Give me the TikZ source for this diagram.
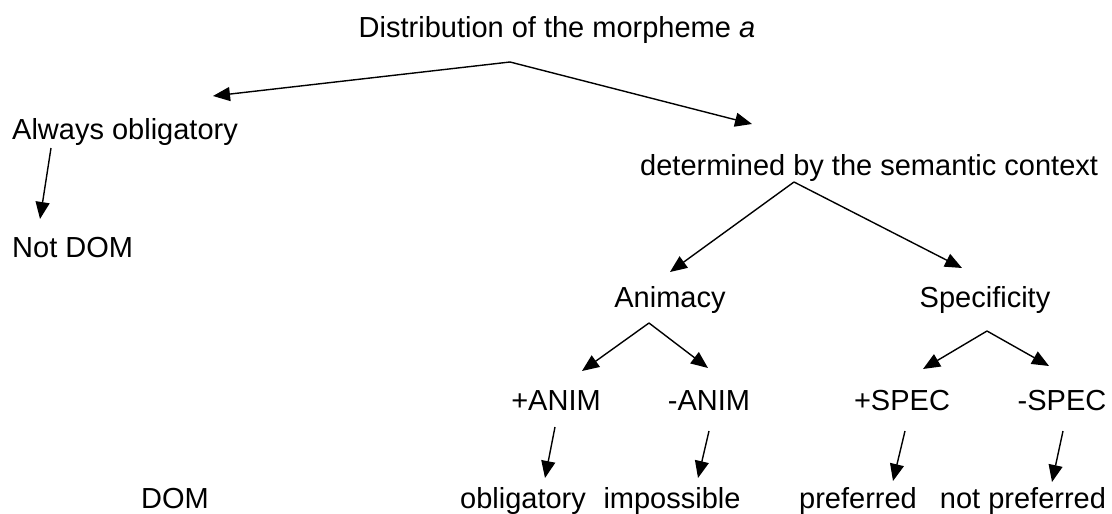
\documentclass[tikz,border=0pt]{standalone}
\usepackage{fontspec}
\setmainfont{Liberation Sans}
\usetikzlibrary{arrows.meta}
\begin{document}
\begin{tikzpicture}[x=1pt,y=-1pt,
  lbl/.style={inner sep=0pt,anchor=base,font=\fontsize{29}{34}\selectfont},
  arr/.style={-{Triangle[length=17pt,width=14pt]},line width=1.4pt}]
\useasboundingbox (0,0) rectangle (1112,514);
% texts
\node[lbl] (title) at (557,37) {Distribution of the morpheme \textit{a}};
\node[lbl,anchor=base west] (always) at (12,139) {Always obligatory};
\node[lbl,anchor=base west] (notdom) at (12,257) {Not DOM};
\node[lbl,anchor=base west] (det) at (640,175) {determined by the semantic context};
\node[lbl] (anim) at (670,307) {Animacy};
\node[lbl] (spec) at (985,307) {Specificity};
\node[lbl] (panim) at (556,410) {+ANIM};
\node[lbl] (manim) at (709,410) {-ANIM};
\node[lbl] (pspec) at (902,410) {+SPEC};
\node[lbl] (mspec) at (1062,410) {-SPEC};
\node[lbl] (dom) at (175,508) {DOM};
\node[lbl] (oblig) at (523,508) {obligatory};
\node[lbl] (imposs) at (672,508) {impossible};
\node[lbl] (pref) at (858,508) {preferred};
\node[lbl] (npref) at (1023,508) {not preferred};
% connector ends
\coordinate (t0) at (510,62);
\coordinate (t1) at (213,96);
\coordinate (t2) at (752,124);
\coordinate (a0) at (51,148);
\coordinate (a1) at (40,219);
\coordinate (d0) at (794,182);
\coordinate (d1) at (670,272);
\coordinate (d2) at (962,268);
\coordinate (n0) at (649,323);
\coordinate (n1) at (582,371);
\coordinate (n2) at (708,368);
\coordinate (s0) at (987,331);
\coordinate (s1) at (923,369);
\coordinate (s2) at (1049,366);
\coordinate (p0) at (555,427);
\coordinate (p1) at (545,478);
\coordinate (q0) at (709,431);
\coordinate (q1) at (698,478);
\coordinate (r0) at (905,431);
\coordinate (r1) at (893,481);
\coordinate (u0) at (1063,431);
\coordinate (u1) at (1052,482);
% connectors
\draw[arr] (t0) -- (t1);
\draw[arr] (t0) -- (t2);
\draw[arr] (a0) -- (a1);
\draw[arr] (d0) -- (d1);
\draw[arr] (d0) -- (d2);
\draw[arr] (n0) -- (n1);
\draw[arr] (n0) -- (n2);
\draw[arr] (s0) -- (s1);
\draw[arr] (s0) -- (s2);
\draw[arr] (p0) -- (p1);
\draw[arr] (q0) -- (q1);
\draw[arr] (r0) -- (r1);
\draw[arr] (u0) -- (u1);
\end{tikzpicture}
\end{document}
